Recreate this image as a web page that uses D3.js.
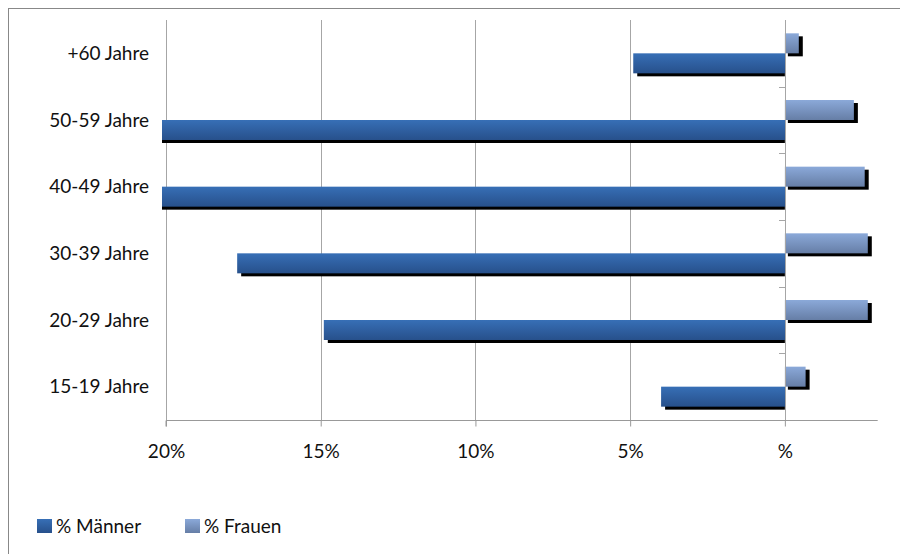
<!DOCTYPE html>
<html><head><meta charset="utf-8">
<script src="https://cdn.jsdelivr.net/npm/d3@7/dist/d3.min.js"></script>
<style>
html,body{margin:0;padding:0;background:#fff;}
svg{display:block;font-family:Lato,"Open Sans",sans-serif;}
</style></head>
<body>
<svg id="chart" width="900" height="554"></svg>
<script>
const categories = ["+60 Jahre","50-59 Jahre","40-49 Jahre","30-39 Jahre","20-29 Jahre","15-19 Jahre"];
const maenner = [4.9, 20.5, 20.5, 17.7, 14.9, 4.0];
const frauen = [0.45, 2.23, 2.58, 2.68, 2.68, 0.67];
const tickValues = [-20, -15, -10, -5, 0];
const tickLabels = ["20%", "15%", "10%", "5%", "%"];
const seriesNames = ["% Männer", "% Frauen"];

const svg = d3.select("#chart");
const W = 900, H = 554;
const plot = {left: 166, right: 877.7, top: 20, bottom: 420};

const x = d3.scaleLinear().domain([-20, 3]).range([plot.left, plot.right]);
const y = d3.scaleBand().domain(categories).range([plot.top, plot.bottom]);
const barH = y.bandwidth() * 0.3;

// gradients
const defs = svg.append("defs");
function grad(id, c1, c2) {
  const g = defs.append("linearGradient").attr("id", id).attr("x1", 0).attr("y1", 0).attr("x2", 0).attr("y2", 1);
  g.append("stop").attr("offset", "0%").attr("stop-color", c1);
  g.append("stop").attr("offset", "100%").attr("stop-color", c2);
}
grad("gM", "#376fb6", "#27508b");
grad("gF", "#8ba9d9", "#667ea6");
defs.append("clipPath").attr("id", "clip").append("rect")
  .attr("x", x(-20) - 4).attr("y", 0).attr("width", W).attr("height", H);

// outer border
svg.append("rect").attr("x", 8.5).attr("y", 8.5).attr("width", W + 20).attr("height", H + 20)
  .attr("fill", "none").attr("stroke", "#888").attr("stroke-width", 1);

// gridlines
svg.append("g").selectAll("line").data(tickValues.slice(0, -1)).join("line")
  .attr("x1", d => Math.round(x(d)) + 0.5).attr("x2", d => Math.round(x(d)) + 0.5)
  .attr("y1", plot.top).attr("y2", plot.bottom)
  .attr("stroke", "#a6a6a6").attr("stroke-width", 1);

// x axis
const xAxis = d3.axisBottom(x).tickValues(tickValues).tickSize(6).tickPadding(18)
  .tickFormat((d, i) => tickLabels[i]);
const gx = svg.append("g").attr("transform", `translate(0,${plot.bottom + 0.5})`).call(xAxis);
gx.select(".domain").attr("d", `M${plot.left},6V0H${plot.right}`).attr("stroke", "#999");
gx.selectAll(".tick line").attr("stroke", "#999");
gx.selectAll(".tick text").attr("font-size", 19).attr("fill", "#111").attr("font-family", "Lato");

const bars = svg.append("g").attr("clip-path", "url(#clip)");
const off = 4, offY = 3;

// shadows
bars.selectAll("rect.sm").data(categories).join("rect").attr("class", "sm")
  .attr("x", (d, i) => x(-maenner[i]) + off)
  .attr("y", d => y(d) + y.bandwidth() / 2 + offY)
  .attr("width", (d, i) => x(0) - x(-maenner[i]) - off)
  .attr("height", barH).attr("fill", "#000");
bars.selectAll("rect.sf").data(categories).join("rect").attr("class", "sf")
  .attr("x", x(0) + off - 1)
  .attr("y", d => y(d) + y.bandwidth() / 2 - barH + offY)
  .attr("width", (d, i) => x(frauen[i]) - x(0) - off + 5)
  .attr("height", barH).attr("fill", "#000");

// y axis line (zero)
svg.append("line").attr("x1", Math.round(x(0)) + 0.5).attr("x2", Math.round(x(0)) + 0.5)
  .attr("y1", plot.top).attr("y2", plot.bottom).attr("stroke", "#a6a6a6");
svg.append("g").selectAll("line").data(categories.slice(1)).join("line")
  .attr("x1", Math.round(x(0)) - 6).attr("x2", Math.round(x(0)))
  .attr("y1", d => Math.round(y(d)) + 0.5).attr("y2", d => Math.round(y(d)) + 0.5)
  .attr("stroke", "#a6a6a6");

// bars
bars.selectAll("rect.bm").data(categories).join("rect").attr("class", "bm")
  .attr("x", (d, i) => x(-maenner[i]))
  .attr("y", d => y(d) + y.bandwidth() / 2)
  .attr("width", (d, i) => x(0) - x(-maenner[i]) + 1)
  .attr("height", barH).attr("fill", "url(#gM)");
bars.selectAll("rect.bf").data(categories).join("rect").attr("class", "bf")
  .attr("x", x(0))
  .attr("y", d => y(d) + y.bandwidth() / 2 - barH)
  .attr("width", (d, i) => x(frauen[i]) - x(0))
  .attr("height", barH).attr("fill", "url(#gF)");

// category labels
svg.append("g").selectAll("text").data(categories).join("text")
  .attr("x", 149).attr("y", d => y(d) + y.bandwidth() / 2)
  .attr("dy", "0.35em").attr("text-anchor", "end")
  .attr("font-size", 19).attr("fill", "#111").text(d => d);

// legend
const legend = svg.append("g");
const lx = [37, 185];
const lg = legend.selectAll("g").data(seriesNames).join("g")
  .attr("transform", (d, i) => `translate(${lx[i]},519)`);
lg.append("rect").attr("width", 15).attr("height", 14)
  .attr("fill", (d, i) => i === 0 ? "url(#gM)" : "url(#gF)");
lg.append("text").attr("x", 19).attr("y", 7).attr("dy", "0.35em")
  .attr("font-size", 19).attr("fill", "#111").text(d => d);
</script>
</body></html>
